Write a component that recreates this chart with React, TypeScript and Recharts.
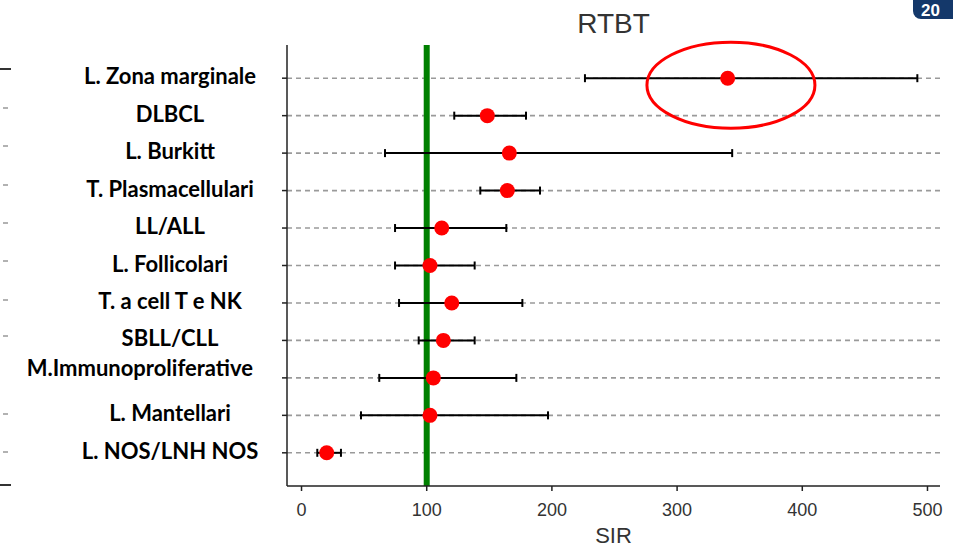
import React from 'react';
import {
  ScatterChart,
  Scatter,
  XAxis,
  YAxis,
  ErrorBar,
  ReferenceLine,
  ReferenceDot,
  Customized,
} from 'recharts';

const categories = [
  'L. Zona marginale',
  'DLBCL',
  'L. Burkitt',
  'T. Plasmacellulari',
  'LL/ALL',
  'L. Follicolari',
  'T. a cell T e NK',
  'SBLL/CLL',
  'M.Immunoproliferative',
  'L. Mantellari',
  'L. NOS/LNH NOS',
];
const sirValues = [340.4, 148.4, 166, 164.4, 112, 102.6, 120, 113.3, 105.3, 102.6, 20.1];
const ciLow = [226.4, 122, 66.7, 142.8, 74.7, 74.7, 77.9, 93.6, 62.1, 47.5, 12.6];
const ciHigh = [491.9, 179.3, 344, 190.5, 163.6, 138.3, 176.4, 138.3, 171.6, 196.9, 31.5];
const xTicks = [0, 100, 200, 300, 400, 500];
const referenceSIR = 100;
const highlightIndex = 0;
const title = 'RTBT';
const xLabel = 'SIR';

const rows = categories.map((name, i) => ({
  name,
  y: i + 1,
  sir: sirValues[i],
  err: [sirValues[i] - ciLow[i], ciHigh[i] - sirValues[i]],
}));
const yTicks = categories.map((_, i) => i + 1);

const YTick = (props: any) => {
  const { y, payload } = props;
  const label = categories[payload.value - 1] ?? '';
  const isLong = label.length > 18;
  return (
    <text
      x={isLong ? 253 : 170}
      y={y + (isLong ? -2 : 6)}
      textAnchor={isLong ? 'end' : 'middle'}
      fontFamily="Lato, 'Open Sans', sans-serif"
      fontWeight={700}
      fontSize={22}
      fill="#000"
    >
      {label}
    </text>
  );
};

const Dot = (props: any) => {
  const { cx, cy } = props;
  if (cx == null || cy == null) return null;
  return <circle cx={cx} cy={cy} r={7.5} fill="#ff0000" />;
};

const Highlight = (props: any) => {
  const { cx, cy } = props;
  if (cx == null || cy == null) return null;
  return <ellipse cx={cx} cy={cy + 7} rx={84} ry={43} fill="none" stroke="#ff0000" strokeWidth={3} />;
};

const Decorations = () => {
  const dashYs = [108, 146, 185, 223, 261, 300, 336, 414, 452];
  return (
    <g>
      <text
        x={613.5}
        y={33}
        textAnchor="middle"
        fontFamily="'Liberation Sans', Arial, sans-serif"
        fontSize={28}
        fill="#333"
      >
        {title}
      </text>
      <rect x={913} y={-12} width={60} height={31} rx={8} fill="#14386a" />
      <text
        x={921}
        y={16}
        fontFamily="'Liberation Sans', Arial, sans-serif"
        fontWeight={700}
        fontSize={17}
        fill="#fff"
      >
        20
      </text>
      <line x1={0} y1={69} x2={11} y2={69} stroke="#333" strokeWidth={2} />
      <line x1={0} y1={485} x2={11} y2={485} stroke="#333" strokeWidth={2} />
      {dashYs.map((yy) => (
        <line key={yy} x1={3} y1={yy} x2={8} y2={yy} stroke="#999" strokeWidth={1.5} />
      ))}
    </g>
  );
};

export default function App() {
  return (
    <div style={{ position: 'absolute', left: 0, top: 0, width: 953, height: 549, background: '#fff' }}>
      <ScatterChart width={953} height={549} margin={{ top: 45, right: 13, bottom: 0, left: 0 }}>
        <XAxis
          type="number"
          dataKey="sir"
          domain={[-11.6, 510]}
          allowDataOverflow
          ticks={xTicks}
          tickSize={5}
          tickMargin={12}
          height={63}
          stroke="#222"
          strokeWidth={1.5}
          tick={{ fill: '#333', fontSize: 18, fontFamily: "'Liberation Sans', Arial, sans-serif" }}
          label={{
            value: xLabel,
            position: 'insideBottom',
            offset: 6,
            fill: '#333',
            fontSize: 22,
            fontFamily: "'Liberation Sans', Arial, sans-serif",
          }}
        />
        <YAxis
          type="number"
          dataKey="y"
          domain={[0.114, 11.886]}
          allowDataOverflow
          reversed
          ticks={yTicks}
          interval={0}
          width={287}
          tickSize={5}
          stroke="#222"
          strokeWidth={1.5}
          tick={<YTick />}
        />
        {rows.map((r) => (
          <ReferenceLine
            key={r.name}
            y={r.y}
            stroke="#9a9a9a"
            strokeDasharray="5 4"
            strokeWidth={1.6}
          />
        ))}
        <ReferenceLine x={referenceSIR} stroke="#008000" strokeWidth={6} />
        <Scatter data={rows} dataKey="sir" shape={<Dot />} isAnimationActive={false}>
          <ErrorBar dataKey="err" direction="x" width={4} stroke="#000" strokeWidth={2} />
        </Scatter>
        <ReferenceDot
          x={343}
          y={highlightIndex + 1}
          r={1}
          shape={<Highlight />}
          ifOverflow="visible"
        />
        <Customized component={<Decorations />} />
      </ScatterChart>
    </div>
  );
}
